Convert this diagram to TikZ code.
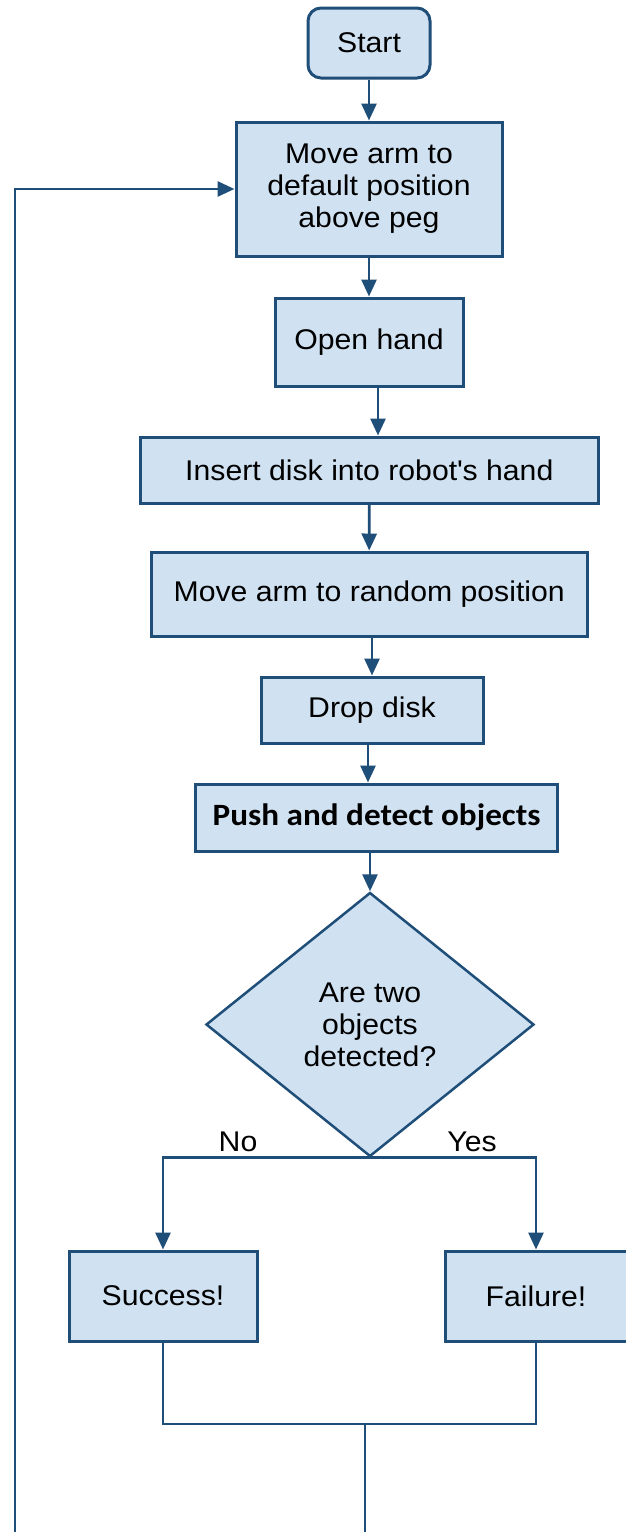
\documentclass[tikz,border=0pt]{standalone}
\usepackage{fontspec}
\setmainfont{Liberation Sans}[FakeStretch=1.06]
\newfontfamily\pushfont{Carlito}[FakeStretch=1.07]
\usetikzlibrary{shapes.geometric,arrows.meta}
\definecolor{edgeblue}{RGB}{31,78,121}
\definecolor{boxfill}{RGB}{208,226,242}
\begin{document}
\begin{tikzpicture}[x=1pt,y=-1pt,
  box/.style={draw=edgeblue, fill=boxfill, line width=3pt, inner sep=0pt,
    align=center, text=black, font=\fontsize{28.5}{32}\selectfont},
  startbox/.style={box, rounded corners=13pt},
  decision/.style={box, shape=diamond, line width=2.5pt},
  lbl/.style={text=black, inner sep=0pt, font=\fontsize{28.5}{32}\selectfont},
  line/.style={draw=edgeblue, line width=2.8pt},
  conn/.style={line, -{Triangle[length=17pt,width=15pt]}}
]
\clip (0,0) rectangle (626,1532);
\fill[white] (0,0) rectangle (626,1532);

\node[startbox, minimum width=122pt, minimum height=70pt] (start) at (369,43) {Start};
\node[box, minimum width=266pt, minimum height=134pt] (movedef) at (369,189) {Move arm to\\default position\\above peg};
\node[box, minimum width=188pt, minimum height=88pt] (open) at (369,342) {Open hand};
\node[box, minimum width=458pt, minimum height=66pt] (insert) at (369.3,470) {Insert disk into robot\textquotesingle s hand};
\node[box, minimum width=436pt, minimum height=84pt] (random) at (369.2,594) {Move arm to random position};
\node[box, minimum width=222pt, minimum height=66pt] (drop) at (372,710) {Drop disk};
\node[box, minimum width=362pt, minimum height=67pt, font=\pushfont\bfseries\fontsize{31}{34}\selectfont] (push) at (376.6,817.5) {Push and detect objects};
\node[decision, minimum width=328pt, minimum height=264pt] (dec) at (370,1024.5) {Are two\\objects\\detected?};
\node[lbl] (no) at (238,1142) {No};
\node[lbl] (yes) at (472,1142) {Yes};
\node[box, minimum width=188pt, minimum height=90pt] (succ) at (163,1296) {Success!};
\node[box, minimum width=182pt, minimum height=90pt] (fail) at (536,1296) {Failure!};

\coordinate (join) at (365,1424);
\coordinate (bottommid) at (365,1545);
\coordinate (bottomleft) at (15,1545);

\draw[conn] (start.south) -- (movedef.north);
\draw[conn] (movedef.south) -- (open.north);
\draw[conn] ([xshift=9pt]open.south) -- ([xshift=9pt]open.south |- insert.north);
\draw[conn] (insert.south) -- (random.north);
\draw[conn] (random.south -| drop.north) -- (drop.north);
\draw[conn] ([xshift=-4pt]drop.south) -- ([xshift=-4pt]drop.south |- push.north);
\draw[conn] (push.south -| dec.north) -- (dec.north);
\draw[conn] (dec.south) -| (succ.north);
\draw[conn] (dec.south) -| (fail.north);
\draw[line] (succ.south) -- (succ.south |- join) -- (fail.south |- join) -- (fail.south);
\draw[line] (join) -- (bottommid);
\draw[conn] (bottomleft) |- (movedef.west);
\end{tikzpicture}
\end{document}
